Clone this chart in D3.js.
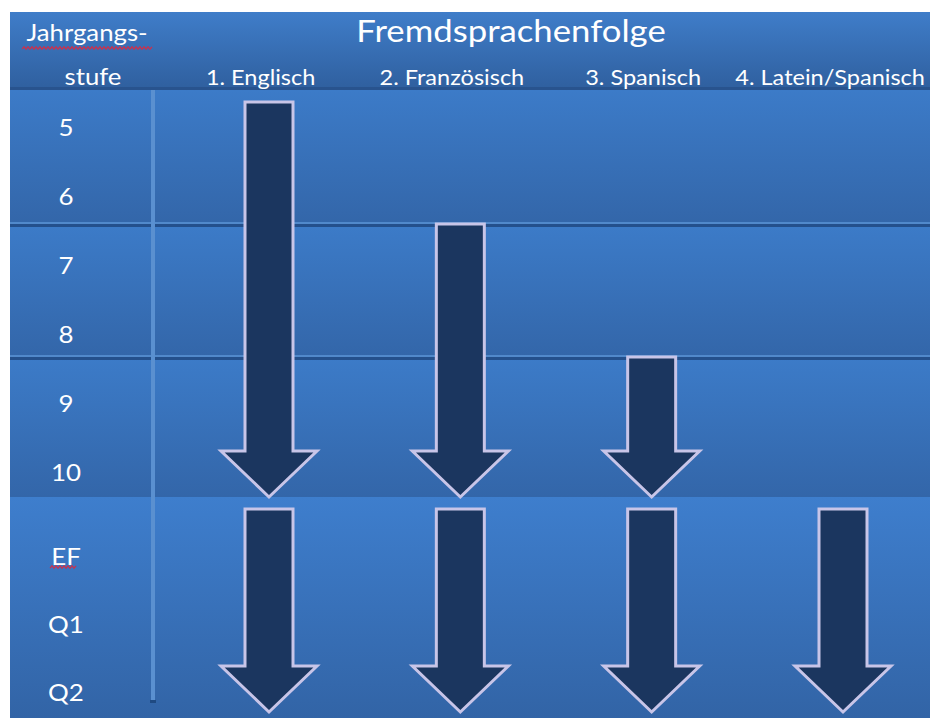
<!DOCTYPE html>
<html>
<head>
<meta charset="utf-8">
<script src="https://cdn.jsdelivr.net/npm/d3@7"></script>
<style>
  body { margin: 0; background: #fff; }
  svg text { font-family: Lato, "Open Sans", sans-serif; font-weight: 400; fill: #fff; }
</style>
</head>
<body>
<div id="chart"></div>
<script>
// Chart data
const title = 'Fremdsprachenfolge'
const rowHeader = ['Jahrgangs-', 'stufe']
const grades = ['5', '6', '7', '8', '9', '10', 'EF', 'Q1', 'Q2']
const bands = [['5', '6'], ['7', '8'], ['9', '10'], ['EF', 'Q1', 'Q2']]
const sections = [['5', '6', '7', '8', '9', '10'], ['EF', 'Q1', 'Q2']]
const languages = ['1. Englisch', '2. Französisch', '3. Spanisch', '4. Latein/Spanisch']
const arrowLang = ['1. Englisch', '2. Französisch', '3. Spanisch', '1. Englisch', '2. Französisch', '3. Spanisch', '4. Latein/Spanisch']
const arrowFrom = ['5', '7', '9', 'EF', 'EF', 'EF', 'EF']
const arrowTo = ['10', '10', '10', 'Q2', 'Q2', 'Q2', 'Q2']
const misspelled = ['Jahrgangs-', 'EF']

// Dimensions
const width = 930
const height = 718
const margin = { top: 12, left: 10 }
const headerBottom = 90
const dividerX = 153
const stretch = 1.12 // the original is a little wider than its type

const svg = d3.select('#chart')
  .append('svg')
  .attr('width', width)
  .attr('height', height)

const defs = svg.append('defs')

function gradient(id, top, bottom) {
  const lg = defs.append('linearGradient')
    .attr('id', id)
    .attr('x1', 0).attr('y1', 0)
    .attr('x2', 0).attr('y2', 1)
  lg.append('stop').attr('offset', '0%').attr('stop-color', top)
  lg.append('stop').attr('offset', '100%').attr('stop-color', bottom)
}
gradient('grad-header', '#3f7dc9', '#2f5f9e')
gradient('grad-band', '#3c7bc8', '#3366a9')
gradient('grad-band-last', '#3e7ecd', '#3264a6')

//===========================================================================

// Scales
const rowIndex = g => grades.indexOf(g)

// band edges, in rows
const edges = [0]
bands.forEach(b => edges.push(edges[edges.length - 1] + b.length))

const yEdge = d3.scaleLinear()
  .domain(edges)
  .range([headerBottom, 225, 358, 497, 712])

const yLabel = d3.scaleLinear()
  .domain([0, 5, 6, 8])
  .range([127, 472, 556, 692])

const xScale = d3.scaleBand()
  .domain(languages)
  .range([165, width])

// arrows sit a little right of their column labels
const xArrow = d3.scalePoint()
  .domain(languages)
  .range([269, 843])

//===========================================================================

// Header block
svg.append('rect')
  .attr('x', margin.left)
  .attr('y', margin.top)
  .attr('width', width - margin.left)
  .attr('height', headerBottom - margin.top)
  .attr('fill', 'url(#grad-header)')

// Body bands
svg.append('g')
  .selectAll('rect')
  .data(bands)
  .join('rect')
  .attr('x', margin.left)
  .attr('y', (d, i) => yEdge(edges[i]))
  .attr('width', width - margin.left)
  .attr('height', (d, i) => (i === bands.length - 1 ? height : yEdge(edges[i + 1])) - yEdge(edges[i]))
  .attr('fill', (d, i) => i === bands.length - 1 ? 'url(#grad-band-last)' : 'url(#grad-band)')

// Header bottom shadow
svg.append('rect')
  .attr('x', margin.left)
  .attr('y', headerBottom - 3)
  .attr('width', width - margin.left)
  .attr('height', 3)
  .attr('fill', '#28538e')

// Lines between bands inside a section
const innerEdges = edges.slice(1, -1).filter(e => e !== sections[0].length)
const lines = svg.append('g')
lines.selectAll('.hl-light')
  .data(innerEdges)
  .join('line')
  .attr('class', 'hl-light')
  .attr('x1', margin.left).attr('x2', width)
  .attr('y1', d => yEdge(d) - 2).attr('y2', d => yEdge(d) - 2)
  .attr('stroke', '#5189cb')
  .attr('stroke-width', 2)
lines.selectAll('.hl-dark')
  .data(innerEdges)
  .join('line')
  .attr('class', 'hl-dark')
  .attr('x1', margin.left).attr('x2', width)
  .attr('y1', d => yEdge(d) + 0.5).attr('y2', d => yEdge(d) + 0.5)
  .attr('stroke', '#24508c')
  .attr('stroke-width', 3)

// Vertical divider
svg.append('line')
  .attr('x1', dividerX).attr('x2', dividerX)
  .attr('y1', headerBottom).attr('y2', 702)
  .attr('stroke', '#5a90d0')
  .attr('stroke-width', 4)
svg.append('rect')
  .attr('x', dividerX - 3).attr('y', 700)
  .attr('width', 6).attr('height', 3)
  .attr('fill', '#1f4a82')

//===========================================================================

// Text helper, slightly stretched horizontally
function stretched(sel, x, y) {
  return sel.attr('transform', `translate(${x},${y}) scale(${stretch},1)`)
}

// Title
stretched(svg.append('text'), 511, 42)
  .attr('text-anchor', 'middle')
  .style('font-size', '31px')
  .text(title)

// Row header
const headerText = svg.append('g')
  .selectAll('text')
  .data(rowHeader)
  .join('text')
  .attr('text-anchor', 'middle')
  .style('font-size', '23px')
  .text(d => d)
headerText.each(function (d, i) {
  stretched(d3.select(this), i === 0 ? 87 : 93, i === 0 ? 41 : 85)
})

// Column labels, kept inside the right edge
svg.append('g')
  .selectAll('text')
  .data(languages)
  .join('text')
  .attr('text-anchor', 'middle')
  .style('font-size', '21px')
  .text(d => d)
  .each(function (d) {
    const half = this.getComputedTextLength() * stretch / 2
    const cx = Math.min(xScale(d) + xScale.bandwidth() / 2, width - 5 - half)
    stretched(d3.select(this), cx, 85)
  })

// Grade labels
svg.append('g')
  .selectAll('text')
  .data(grades)
  .join('text')
  .attr('text-anchor', 'middle')
  .attr('dy', '0.36em')
  .style('font-size', '24px')
  .attr('transform', (d, i) => `translate(66,${yLabel(i)}) scale(1.08,1)`)
  .text(d => d)

//===========================================================================

// Arrows
const shaftHalf = 24
const headHalf = 48
const headLength = 46
const arrowData = arrowLang.map((lang, i) => ({ lang, from: arrowFrom[i], to: arrowTo[i] }))

function arrowPath(d) {
  const x = xArrow(d.lang)
  const start = rowIndex(d.from)
  const sectionStart = sections.some(s => s[0] === d.from)
  const top = yEdge(start) + (sectionStart ? 12 : -1)
  const tip = yEdge(rowIndex(d.to) + 1)
  const neck = tip - headLength
  const p = d3.path()
  p.moveTo(x - shaftHalf, top)
  p.lineTo(x + shaftHalf, top)
  p.lineTo(x + shaftHalf, neck)
  p.lineTo(x + headHalf, neck)
  p.lineTo(x, tip)
  p.lineTo(x - headHalf, neck)
  p.lineTo(x - shaftHalf, neck)
  p.closePath()
  return p.toString()
}

svg.append('g')
  .selectAll('path')
  .data(arrowData)
  .join('path')
  .attr('d', arrowPath)
  .attr('fill', '#1b365f')
  .attr('stroke', '#c8c5e8')
  .attr('stroke-width', 3)
  .attr('stroke-linejoin', 'miter')

//===========================================================================

// Spell-check squiggles under the words Word didn't know
function squiggle(x0, x1, y) {
  const pts = []
  for (let x = x0, k = 0; x <= x1; x += 2, k++) pts.push([x, y + (k % 2 ? -1.2 : 1.2)])
  return d3.line()(pts)
}
const squiggleSpots = [
  { word: misspelled[0], x0: 22, x1: 152, y: 48 },
  { word: misspelled[1], x0: 50, x1: 77, y: 567 }
]
svg.append('g')
  .selectAll('path')
  .data(squiggleSpots)
  .join('path')
  .attr('d', d => squiggle(d.x0, d.x1, d.y))
  .attr('fill', 'none')
  .attr('stroke', '#c8324f')
  .attr('stroke-width', 1.2)
</script>
</body>
</html>
